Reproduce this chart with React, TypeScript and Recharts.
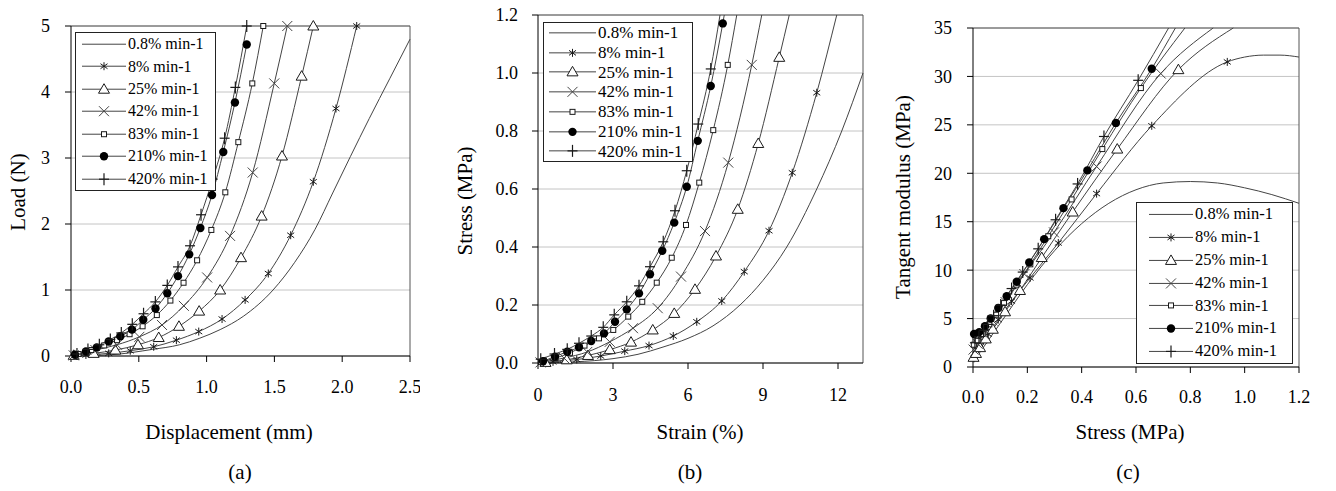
import { LineChart, Line, XAxis, YAxis, CartesianGrid, ReferenceLine, Legend } from "recharts";

type Pt = [number, number];
type Kind = "none" | "star" | "tri" | "cross" | "square" | "dot" | "plus";

const SERIF = '"Liberation Serif", "Times New Roman", "DejaVu Serif", serif';

const rateLabels = ["0.8% min-1", "8% min-1", "25% min-1", "42% min-1", "83% min-1", "210% min-1", "420% min-1"];
const rateMarkers: Kind[] = ["none", "star", "tri", "cross", "square", "dot", "plus"];

// (a) load vs displacement
const dispTicks = [0, 0.5, 1, 1.5, 2, 2.5];
const loadTicks = [0, 1, 2, 3, 4, 5];
const a08: Pt[] = [[0, 0], [0.3, 0.02], [0.6, 0.1], [0.8, 0.17], [0.95, 0.27], [1.1, 0.4], [1.27, 0.6], [1.49, 1.0], [1.65, 1.42], [1.8, 1.92], [1.93, 2.47], [2.06, 3.02], [2.2, 3.6], [2.35, 4.2], [2.5, 4.8]];
const a8: Pt[] = [[0.11, 0.015], [0.278, 0.04], [0.437, 0.08], [0.61, 0.14], [0.777, 0.24], [0.942, 0.37], [1.114, 0.56], [1.284, 0.85], [1.455, 1.25], [1.62, 1.83], [1.787, 2.64], [1.954, 3.75], [2.107, 5.0]];
const a25: Pt[] = [[0.02, 0.01], [0.167, 0.04], [0.327, 0.09], [0.494, 0.17], [0.647, 0.28], [0.796, 0.45], [0.945, 0.68], [1.1, 1.0], [1.254, 1.49], [1.406, 2.12], [1.556, 3.03], [1.701, 4.24], [1.787, 5.0]];
const a42: Pt[] = [[0.02, 0.01], [0.18, 0.09], [0.339, 0.17], [0.504, 0.29], [0.671, 0.47], [0.832, 0.76], [1.004, 1.19], [1.173, 1.82], [1.34, 2.78], [1.499, 4.13], [1.595, 5.0]];
const a83: Pt[] = [[0.055, 0.03], [0.15, 0.09], [0.245, 0.16], [0.339, 0.24], [0.432, 0.33], [0.528, 0.45], [0.633, 0.62], [0.733, 0.84], [0.83, 1.11], [0.93, 1.45], [1.035, 1.91], [1.138, 2.48], [1.234, 3.24], [1.337, 4.13], [1.418, 5.0]];
const a210: Pt[] = [[0.03, 0.02], [0.11, 0.07], [0.19, 0.13], [0.278, 0.22], [0.364, 0.3], [0.45, 0.4], [0.533, 0.55], [0.623, 0.72], [0.71, 0.95], [0.789, 1.21], [0.872, 1.54], [0.954, 1.94], [1.04, 2.44], [1.123, 3.09], [1.209, 3.84], [1.296, 4.72]];
const a420: Pt[] = [[0.044, 0.03], [0.125, 0.1], [0.209, 0.17], [0.29, 0.25], [0.371, 0.35], [0.452, 0.48], [0.535, 0.64], [0.622, 0.82], [0.71, 1.07], [0.789, 1.35], [0.878, 1.67], [0.959, 2.14], [1.045, 2.68], [1.133, 3.3], [1.212, 4.07], [1.296, 5.0]];

// (b) stress vs strain
const strainTicks = [0, 3, 6, 9, 12];
const stressTicksB = [0, 0.2, 0.4, 0.6, 0.8, 1.0, 1.2];
const b08: Pt[] = [[0, 0], [1.5, 0.004], [3, 0.015], [4, 0.03], [5, 0.055], [6, 0.085], [7, 0.128], [8.08, 0.2], [9.0, 0.285], [9.95, 0.4], [11.15, 0.6], [12.15, 0.8], [13, 1.0]];
const b8: Pt[] = [[0.6, 0.004], [1.55, 0.012], [2.51, 0.024], [3.47, 0.041], [4.44, 0.06], [5.41, 0.093], [6.35, 0.142], [7.35, 0.214], [8.25, 0.315], [9.24, 0.456], [10.17, 0.656], [11.15, 0.932]];
const b25: Pt[] = [[0.3, 0.002], [1.15, 0.011], [2.0, 0.026], [2.87, 0.046], [3.72, 0.072], [4.59, 0.114], [5.45, 0.171], [6.28, 0.254], [7.12, 0.369], [7.99, 0.53], [8.81, 0.757], [9.65, 1.054]];
const b42: Pt[] = [[0.1, 0.002], [1.04, 0.017], [1.97, 0.038], [2.87, 0.073], [3.8, 0.12], [4.79, 0.189], [5.72, 0.298], [6.68, 0.455], [7.61, 0.691], [8.55, 1.028]];
const b83: Pt[] = [[0.12, 0.003], [0.7, 0.017], [1.28, 0.035], [1.86, 0.06], [2.44, 0.085], [3.01, 0.114], [3.61, 0.16], [4.17, 0.211], [4.75, 0.277], [5.35, 0.363], [5.92, 0.476], [6.45, 0.622], [7.01, 0.803], [7.59, 1.028]];
const b210: Pt[] = [[0.2, 0.006], [0.68, 0.022], [1.17, 0.039], [1.64, 0.054], [2.13, 0.076], [2.64, 0.102], [3.08, 0.142], [3.55, 0.185], [4.04, 0.24], [4.48, 0.306], [4.97, 0.387], [5.45, 0.484], [5.95, 0.608], [6.39, 0.766], [6.91, 0.955], [7.39, 1.171]];
const b420: Pt[] = [[0.11, 0.013], [0.66, 0.031], [1.17, 0.047], [1.64, 0.068], [2.13, 0.093], [2.61, 0.123], [3.05, 0.166], [3.55, 0.211], [4.04, 0.266], [4.48, 0.332], [5.01, 0.418], [5.48, 0.525], [5.95, 0.663], [6.41, 0.824], [6.91, 1.014]];
// where each curve leaves the top of the plot
const bTails: Pt[][] = [[], [[11.95, 1.2]], [[10.05, 1.2]], [[8.95, 1.2]], [[7.95, 1.2]], [[7.45, 1.2]], [[7.28, 1.2]]];

// (c) tangent modulus vs stress
const stressTicksC = [0, 0.2, 0.4, 0.6, 0.8, 1.0, 1.2];
const modulusTicks = [0, 5, 10, 15, 20, 25, 30, 35];
const c08: Pt[] = [[0, 0.5], [0.05, 2.5], [0.1, 4.5], [0.2, 8.5], [0.3, 12.0], [0.4, 14.8], [0.5, 16.9], [0.6, 18.3], [0.7, 19.0], [0.8, 19.15], [0.9, 19.0], [1.0, 18.5], [1.1, 17.8], [1.2, 16.9]];
const c8: Pt[] = [[0.004, 0.9], [0.012, 1.4], [0.024, 2.0], [0.039, 2.7], [0.056, 3.4], [0.093, 4.9], [0.142, 6.8], [0.21, 9.2], [0.314, 12.8], [0.455, 17.9], [0.658, 24.9], [0.936, 31.5]];
const c25: Pt[] = [[0.002, 1.0], [0.011, 1.4], [0.026, 2.0], [0.047, 2.9], [0.073, 3.9], [0.118, 5.7], [0.173, 7.9], [0.253, 11.3], [0.367, 16.0], [0.531, 22.5], [0.756, 30.7]];
const c42: Pt[] = [[0.002, 1.8], [0.017, 2.4], [0.04, 3.4], [0.072, 4.8], [0.12, 6.7], [0.189, 9.6], [0.298, 13.9], [0.455, 20.7], [0.691, 30.3]];
const c83: Pt[] = [[0.003, 2.3], [0.017, 2.7], [0.035, 3.4], [0.06, 4.4], [0.085, 5.4], [0.114, 6.6], [0.16, 8.5], [0.211, 10.6], [0.277, 13.5], [0.363, 17.3], [0.476, 22.5], [0.618, 28.8]];
const c210: Pt[] = [[0.004, 3.4], [0.023, 3.6], [0.044, 4.2], [0.065, 5.0], [0.093, 6.1], [0.124, 7.3], [0.161, 8.8], [0.207, 10.8], [0.262, 13.2], [0.333, 16.4], [0.421, 20.3], [0.526, 25.2], [0.658, 30.8]];
const c420: Pt[] = [[0.007, 2.5], [0.022, 3.1], [0.039, 3.8], [0.054, 4.4], [0.076, 5.3], [0.102, 6.4], [0.142, 8.1], [0.183, 9.8], [0.24, 12.2], [0.304, 15.2], [0.385, 18.9], [0.482, 23.8], [0.608, 29.6]];
const cTails: Pt[][] = [[], [[1.0, 32.0], [1.07, 32.2], [1.13, 32.2], [1.2, 32.0]], [[0.958, 35]], [[0.884, 35]], [[0.78, 35]], [[0.745, 35]], [[0.72, 35]]];

const noTails: Pt[][] = [[], [], [], [], [], [], []];

function Marker({ kind, x, y }: { kind: Kind; x: number; y: number }) {
  const s = "#1a1a1a";
  switch (kind) {
    case "star":
      return (
        <g stroke={s} strokeWidth={1}>
          <line x1={x} y1={y - 4} x2={x} y2={y + 4} />
          <line x1={x - 3.5} y1={y - 2.5} x2={x + 3.5} y2={y + 2.5} />
          <line x1={x - 3.5} y1={y + 2.5} x2={x + 3.5} y2={y - 2.5} />
        </g>
      );
    case "tri":
      return <polygon points={`${x},${y - 5.5} ${x + 5.5},${y + 4} ${x - 5.5},${y + 4}`} fill="#fff" stroke={s} strokeWidth={1} />;
    case "cross":
      return (
        <g stroke="#444" strokeWidth={1}>
          <line x1={x - 5} y1={y - 5} x2={x + 5} y2={y + 5} />
          <line x1={x - 5} y1={y + 5} x2={x + 5} y2={y - 5} />
        </g>
      );
    case "square":
      return <rect x={x - 2.5} y={y - 2.5} width={5} height={5} fill="#fff" stroke={s} strokeWidth={1} />;
    case "dot":
      return <circle cx={x} cy={y} r={4.2} fill="#000" />;
    case "plus":
      return (
        <g stroke={s} strokeWidth={1.2}>
          <line x1={x} y1={y - 6} x2={x} y2={y + 6} />
          <line x1={x - 5} y1={y} x2={x + 5} y2={y} />
        </g>
      );
    default:
      return null;
  }
}

function makeDot(kind: Kind, count: number) {
  return (props: any) => {
    const { cx, cy, index } = props;
    if (kind === "none" || index >= count || cx == null || cy == null) return <g key={`e-${index}`} />;
    return (
      <g key={`m-${index}`}>
        <Marker kind={kind} x={cx} y={cy} />
      </g>
    );
  };
}

type LegendSpec = { left: number; top: number; width: number; height: number; fontSize: number; padLeft: number; sampleW: number };

function LegendBox({ spec }: { spec: LegendSpec }) {
  const rowH = (spec.height - 2) / rateLabels.length;
  return (
    <div
      style={{
        width: spec.width,
        height: spec.height,
        boxSizing: "border-box",
        border: "1px solid #222",
        background: "#fff",
        paddingLeft: spec.padLeft,
        fontFamily: SERIF,
      }}
    >
      {rateLabels.map((label, i) => (
        <div key={label} style={{ display: "flex", alignItems: "center", height: rowH }}>
          <svg width={spec.sampleW} height={rowH} style={{ display: "block" }}>
            <line x1={0} x2={spec.sampleW} y1={rowH / 2} y2={rowH / 2} stroke="#444" />
            <Marker kind={rateMarkers[i]} x={spec.sampleW / 2} y={rowH / 2} />
          </svg>
          <span style={{ fontSize: spec.fontSize, marginLeft: 2, color: "#000", whiteSpace: "nowrap", lineHeight: 1 }}>{label}</span>
        </div>
      ))}
    </div>
  );
}

type PanelProps = {
  x: number;
  width: number;
  margin: { top: number; right: number; bottom: number; left: number };
  yAxisWidth: number;
  xAxisHeight: number;
  xDomain: [number, number];
  xTicks: number[];
  xDigits: number;
  xTickMargin: number;
  yDomain: [number, number];
  yTicks: number[];
  yDigits: number;
  yTickMargin: number;
  curves: Pt[][];
  tails: Pt[][];
  legend: LegendSpec;
};

function Panel(p: PanelProps) {
  const tickStyle = { fontSize: 18, fill: "#000", fontFamily: SERIF };
  return (
    <div style={{ position: "absolute", left: p.x, top: 0 }}>
      <LineChart width={p.width} height={440} margin={p.margin}>
        <CartesianGrid vertical={false} stroke="#c4c4c4" />
        <XAxis
          type="number"
          dataKey="x"
          domain={p.xDomain}
          ticks={p.xTicks}
          interval={0}
          tickFormatter={(v: number) => v.toFixed(p.xDigits)}
          height={p.xAxisHeight}
          tickSize={6}
          tickMargin={p.xTickMargin}
          axisLine={{ stroke: "#000" }}
          tickLine={{ stroke: "#000" }}
          tick={tickStyle}
        />
        <YAxis
          type="number"
          domain={p.yDomain}
          ticks={p.yTicks}
          interval={0}
          tickFormatter={(v: number) => v.toFixed(p.yDigits)}
          width={p.yAxisWidth}
          tickSize={6}
          tickMargin={p.yTickMargin}
          axisLine={{ stroke: "#000" }}
          tickLine={{ stroke: "#000" }}
          tick={tickStyle}
        />
        <ReferenceLine y={p.yDomain[1]} stroke="#555" />
        <ReferenceLine x={p.xDomain[1]} stroke="#555" />
        {p.curves.map((pts, i) => (
          <Line
            key={rateLabels[i]}
            name={rateLabels[i]}
            data={[...pts, ...p.tails[i]].map(([px, py]) => ({ x: px, y: py }))}
            dataKey="y"
            type="monotone"
            stroke="#444"
            strokeWidth={1}
            dot={makeDot(rateMarkers[i], rateMarkers[i] === "none" ? 0 : pts.length)}
            activeDot={false}
            isAnimationActive={false}
          />
        ))}
        <Legend
          layout="vertical"
          align="center"
          verticalAlign="middle"
          wrapperStyle={{ left: p.legend.left, top: p.legend.top, width: p.legend.width, height: p.legend.height }}
          content={() => <LegendBox spec={p.legend} />}
        />
      </LineChart>
    </div>
  );
}

function Caption({ text, cx, cy, size = 21, rotate = false }: { text: string; cx: number; cy: number; size?: number; rotate?: boolean }) {
  return (
    <div
      style={{
        position: "absolute",
        left: cx,
        top: cy,
        transform: `translate(-50%, -50%)${rotate ? " rotate(-90deg)" : ""}`,
        fontFamily: SERIF,
        fontSize: size,
        lineHeight: 1,
        whiteSpace: "nowrap",
        color: "#000",
      }}
    >
      {text}
    </div>
  );
}

export default function App() {
  return (
    <div style={{ position: "absolute", left: 0, top: 0, width: 1336, height: 491, background: "#fff", overflow: "hidden" }}>
      <Panel
        x={0}
        width={420}
        margin={{ top: 26, right: 10, bottom: 0, left: 0 }}
        yAxisWidth={71}
        xAxisHeight={84}
        xDomain={[0, 2.5]}
        xTicks={dispTicks}
        xDigits={1}
        xTickMargin={18}
        yDomain={[0, 5]}
        yTicks={loadTicks}
        yDigits={0}
        yTickMargin={15}
        curves={[a08, a8, a25, a42, a83, a210, a420]}
        tails={noTails}
        legend={{ left: 75, top: 32, width: 141, height: 159, fontSize: 16, padLeft: 6, sampleW: 44 }}
      />
      <Panel
        x={450}
        width={420}
        margin={{ top: 15, right: 7, bottom: 0, left: 0 }}
        yAxisWidth={88}
        xAxisHeight={77}
        xDomain={[0, 13]}
        xTicks={strainTicks}
        xDigits={0}
        xTickMargin={19}
        yDomain={[0, 1.2]}
        yTicks={stressTicksB}
        yDigits={1}
        yTickMargin={14}
        curves={[b08, b8, b25, b42, b83, b210, b420]}
        tails={bTails}
        legend={{ left: 93, top: 22, width: 150, height: 140, fontSize: 17, padLeft: 5, sampleW: 47 }}
      />
      <Panel
        x={880}
        width={430}
        margin={{ top: 28, right: 11, bottom: 0, left: 0 }}
        yAxisWidth={93}
        xAxisHeight={73}
        xDomain={[0, 1.2]}
        xTicks={stressTicksC}
        xDigits={1}
        xTickMargin={17}
        yDomain={[0, 35]}
        yTicks={modulusTicks}
        yDigits={0}
        yTickMargin={15}
        curves={[c08, c8, c25, c42, c83, c210, c420]}
        tails={cTails}
        legend={{ left: 256, top: 202, width: 157, height: 162, fontSize: 16.5, padLeft: 12, sampleW: 44 }}
      />
      <Caption text="Load (N)" cx={18} cy={192} rotate />
      <Caption text="Displacement (mm)" cx={229} cy={432} />
      <Caption text="(a)" cx={240} cy={472} />
      <Caption text="Stress (MPa)" cx={465} cy={201} rotate />
      <Caption text="Strain (%)" cx={700} cy={432} />
      <Caption text="(b)" cx={690} cy={472} />
      <Caption text="Tangent modulus (MPa)" cx={903} cy={197} rotate />
      <Caption text="Stress (MPa)" cx={1130} cy={432} />
      <Caption text="(c)" cx={1128} cy={472} />
    </div>
  );
}
